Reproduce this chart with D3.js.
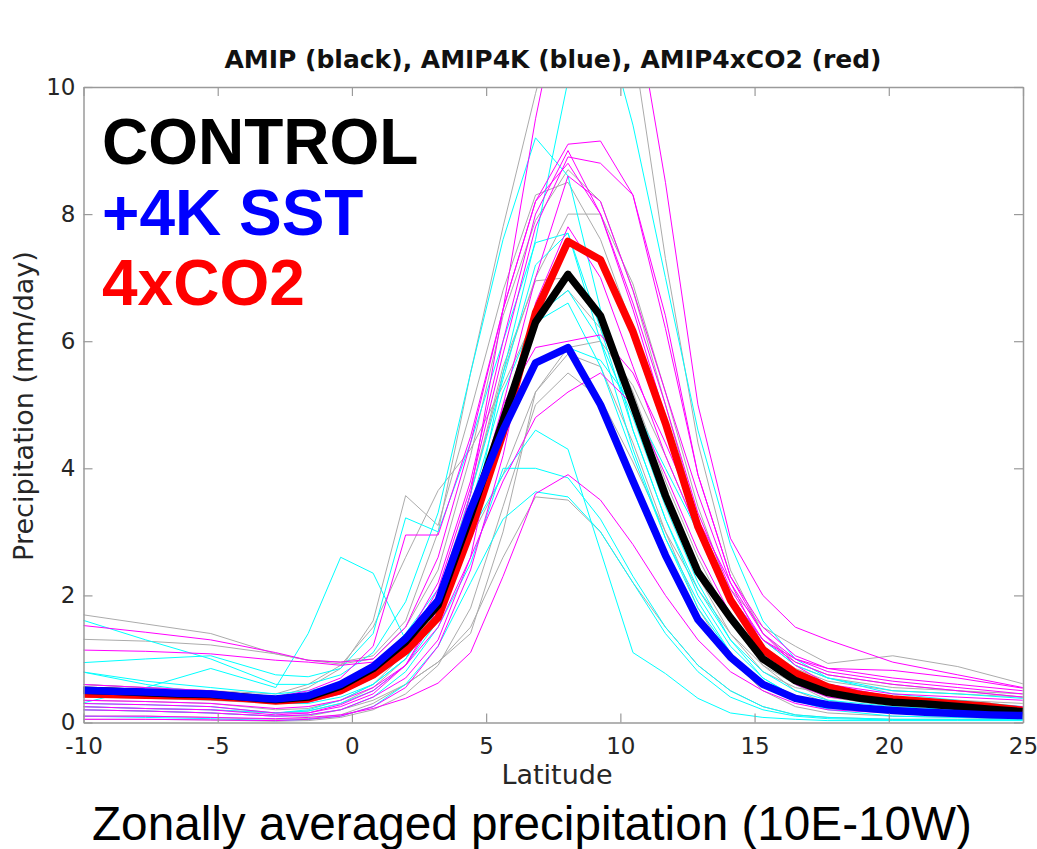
<!DOCTYPE html>
<html>
<head>
<meta charset="utf-8">
<script src="https://cdn.jsdelivr.net/npm/d3@7"></script>
<style>
  html, body { margin: 0; padding: 0; background: #fff; }
  svg { display: block; }
</style>
</head>
<body>
<svg id="chart" width="1037" height="849"></svg>
<script>
// ---------------- data ----------------
const title = "AMIP (black), AMIP4K (blue), AMIP4xCO2 (red)";
const caption = "Zonally averaged precipitation (10E-10W)";
const xLabel = "Latitude";
const yLabel = "Precipitation (mm/day)";
const legendLabels = ["CONTROL", "+4K SST", "4xCO2"];
const xTicks = [-10, -5, 0, 5, 10, 15, 20, 25];
const xTickLabels = ["-10", "-5", "0", "5", "10", "15", "20", "25"];
const yTicks = [0, 2, 4, 6, 8, 10];
const yTickLabels = ["0", "2", "4", "6", "8", "10"];

// latitude grid of the multi-model means
const latGrid = [-10.10,-8.89,-7.68,-6.47,-5.26,-4.05,-2.84,-1.63,-0.42,0.79,2.00,3.21,4.42,5.63,6.84,8.05,9.26,10.47,11.68,12.89,14.10,15.31,16.52,17.73,18.94,20.15,21.36,22.57,23.78,24.99];
const amipMean    = [0.51,0.49,0.47,0.45,0.44,0.40,0.36,0.40,0.57,0.85,1.27,1.85,3.25,4.75,6.30,7.05,6.40,5.00,3.57,2.37,1.65,1.00,0.66,0.47,0.38,0.32,0.29,0.25,0.21,0.17];
const amip4kMean  = [0.51,0.49,0.48,0.46,0.45,0.40,0.37,0.42,0.60,0.88,1.32,1.92,3.35,4.60,5.66,5.90,5.00,3.80,2.63,1.62,1.03,0.60,0.38,0.28,0.23,0.19,0.16,0.14,0.12,0.11];
const amip4xMean  = [0.45,0.44,0.43,0.42,0.41,0.38,0.34,0.37,0.50,0.75,1.12,1.65,3.00,4.55,6.45,7.57,7.28,6.15,4.71,3.08,1.93,1.15,0.78,0.56,0.44,0.37,0.33,0.29,0.25,0.19];

// latitude grid of the individual models
const modelLat = [-10.10,-7.68,-5.26,-2.84,-1.63,-0.42,0.79,2.00,3.21,4.42,5.63,6.84,8.05,9.26,10.47,11.68,12.89,14.10,15.31,16.52,17.73,20.15,22.57,24.99];

const amipModels = [
  [1.70,1.55,1.40,1.08,0.98,0.95,1.05,1.60,3.00,5.50,7.80,9.90,11.80,11.90,10.70,7.30,4.40,2.40,1.40,0.95,0.75,0.60,0.50,0.40],
  [1.31,1.28,1.22,1.08,0.98,0.92,1.00,1.50,2.40,4.20,6.40,7.90,8.70,8.20,6.80,5.00,3.20,1.90,1.20,0.85,0.65,0.50,0.45,0.40],
  [0.35,0.33,0.30,0.20,0.22,0.35,0.60,1.10,2.00,3.60,5.50,7.00,8.00,8.00,6.90,5.20,3.40,2.00,1.10,0.60,0.35,0.20,0.15,0.10],
  [0.60,0.55,0.50,0.40,0.55,0.85,1.60,3.57,3.10,4.90,6.80,8.30,8.50,7.60,6.20,4.60,3.00,2.10,1.50,1.20,0.93,1.05,0.88,0.61],
  [0.25,0.22,0.20,0.15,0.18,0.30,0.55,1.00,1.80,3.60,5.60,6.95,7.00,6.30,5.20,3.80,2.60,1.60,0.90,0.50,0.30,0.20,0.15,0.12],
  [0.20,0.18,0.15,0.10,0.10,0.20,0.35,0.60,0.95,1.50,2.60,3.55,3.50,3.00,2.20,1.50,0.90,0.50,0.25,0.12,0.08,0.05,0.05,0.05],
  [0.60,0.55,0.50,0.45,0.60,0.90,1.50,2.60,3.65,4.30,5.30,6.40,6.80,6.20,5.00,3.60,2.30,1.40,0.80,0.55,0.45,0.40,0.35,0.30],
  [0.10,0.10,0.08,0.05,0.06,0.12,0.30,0.60,0.95,1.40,3.00,5.20,5.80,5.60,4.40,3.00,1.80,1.00,0.50,0.25,0.15,0.10,0.08,0.05],
  [0.40,0.38,0.35,0.30,0.35,0.50,0.80,1.30,2.00,2.90,3.90,5.20,5.90,6.00,5.30,4.20,3.00,2.00,1.30,0.90,0.70,0.55,0.50,0.45],
  [0.05,0.05,0.04,0.02,0.03,0.08,0.20,0.45,0.90,1.80,3.40,5.00,5.50,5.10,4.10,3.00,2.10,1.40,0.90,0.60,0.40,0.25,0.20,0.15]
];
const amip4kModels = [
  [0.30,0.28,0.25,0.15,0.18,0.30,0.50,0.90,1.60,3.00,5.50,7.60,10.10,11.30,9.40,7.00,4.60,2.80,1.60,1.00,0.70,0.45,0.35,0.25],
  [1.62,1.30,1.00,0.60,0.60,0.75,1.10,1.90,3.30,5.50,7.60,9.20,8.60,6.50,4.60,3.20,2.10,1.30,0.80,0.50,0.35,0.25,0.20,0.15],
  [0.30,0.55,0.85,0.55,1.40,2.60,2.35,1.30,1.90,3.60,5.40,7.20,7.70,6.20,4.60,3.20,2.00,1.20,0.70,0.40,0.25,0.15,0.10,0.08],
  [0.94,1.00,1.05,0.75,0.72,0.85,1.40,3.22,3.00,4.40,6.00,7.55,7.70,6.00,4.30,2.90,1.80,1.10,0.60,0.35,0.22,0.15,0.12,0.10],
  [0.80,0.65,0.55,0.45,0.50,0.60,0.90,1.40,2.10,3.00,3.90,4.60,4.30,2.70,1.10,0.77,0.38,0.15,0.08,0.05,0.03,0.03,0.03,0.03],
  [0.20,0.18,0.15,0.10,0.12,0.20,0.40,0.80,1.50,2.50,4.00,4.00,3.85,3.20,2.30,1.50,0.90,0.50,0.25,0.12,0.08,0.05,0.05,0.05],
  [0.10,0.08,0.06,0.03,0.05,0.10,0.25,0.60,1.20,2.20,3.20,3.63,3.55,3.00,2.20,1.40,0.80,0.40,0.20,0.10,0.06,0.04,0.04,0.04],
  [0.25,0.22,0.20,0.15,0.20,0.35,0.60,1.00,1.80,3.40,5.20,6.40,6.80,6.00,4.80,3.40,2.20,1.30,0.70,0.40,0.25,0.15,0.12,0.10],
  [0.50,0.45,0.40,0.30,0.35,0.50,0.75,1.20,1.90,3.20,4.80,5.60,5.90,5.70,5.00,4.00,3.00,2.00,1.30,0.90,0.70,0.50,0.45,0.38],
  [0.80,0.60,0.45,0.30,0.30,0.40,0.60,1.00,1.70,3.00,4.80,6.30,6.60,5.60,4.20,2.90,1.90,1.10,0.60,0.35,0.20,0.10,0.08,0.06]
];
const amip4xModels = [
  [0.30,0.28,0.25,0.15,0.15,0.25,0.45,0.90,1.80,3.60,6.50,9.50,12.00,12.50,11.50,8.50,5.00,2.90,2.00,1.50,1.30,0.95,0.75,0.55],
  [1.53,1.42,1.30,1.10,0.98,0.95,1.00,1.50,2.60,4.40,6.50,8.20,9.10,9.15,8.30,6.20,3.90,2.30,1.40,1.00,0.80,0.65,0.55,0.45],
  [1.14,1.12,1.08,0.98,0.95,0.90,0.95,1.30,2.20,3.80,6.00,8.00,9.00,8.00,6.60,5.00,3.30,2.10,1.30,0.95,0.75,0.60,0.50,0.40],
  [0.60,0.55,0.50,0.40,0.50,0.70,1.20,2.95,2.95,4.50,6.50,8.20,8.80,8.00,6.50,4.80,3.20,2.00,1.20,0.80,0.60,0.45,0.40,0.35],
  [0.10,0.10,0.08,0.06,0.08,0.12,0.22,0.38,0.62,1.10,2.30,3.60,3.90,3.50,2.80,2.00,1.30,0.80,0.50,0.30,0.20,0.15,0.12,0.10],
  [0.25,0.22,0.20,0.12,0.15,0.28,0.50,0.90,1.70,3.20,5.00,5.90,6.00,6.10,5.50,4.40,3.20,2.20,1.40,0.90,0.60,0.40,0.30,0.25],
  [0.45,0.42,0.38,0.30,0.32,0.45,0.70,1.20,2.10,3.70,5.80,7.80,8.90,8.80,8.30,6.40,3.90,2.30,1.50,1.05,0.85,0.70,0.60,0.50],
  [0.05,0.05,0.04,0.03,0.05,0.10,0.25,0.55,1.20,2.40,4.20,6.60,7.80,7.00,5.60,4.20,3.00,2.00,1.30,1.00,0.85,0.82,0.70,0.54],
  [0.35,0.33,0.30,0.22,0.25,0.35,0.55,0.90,1.50,2.60,3.80,4.80,5.20,5.50,5.00,3.90,2.70,1.70,1.00,0.60,0.40,0.30,0.25,0.20],
  [0.20,0.18,0.15,0.10,0.12,0.20,0.40,0.70,1.30,2.60,5.00,7.00,8.60,8.20,6.80,5.20,3.60,2.20,1.20,0.70,0.45,0.30,0.25,0.20]
];

// ---------------- drawing ----------------
const svg = d3.select("#chart");
const plotLeft = 83.5, plotRight = 1023, plotTop = 87, plotBottom = 722.5;

const x = d3.scaleLinear().domain([-10, 25]).range([plotLeft, plotRight]);
const y = d3.scaleLinear().domain([0, 10]).range([plotBottom, plotTop]);

svg.append("defs").append("clipPath").attr("id", "plotclip")
  .append("rect").attr("x", plotLeft).attr("y", plotTop)
  .attr("width", plotRight - plotLeft).attr("height", plotBottom - plotTop);

const plot = svg.append("g").attr("clip-path", "url(#plotclip)");

const makeLine = (lats) => d3.line().x((d, i) => x(lats[i])).y(d => y(d));

const thinGroups = [
  { data: amipModels,   color: "#ababab" },
  { data: amip4kModels, color: "#00ffff" },
  { data: amip4xModels, color: "#ff00ff" }
];
thinGroups.forEach(g => {
  plot.append("g").selectAll("path").data(g.data).join("path")
    .attr("d", makeLine(modelLat))
    .attr("fill", "none")
    .attr("stroke", g.color)
    .attr("stroke-width", 1);
});

const thick = [
  { data: amip4xMean, color: "#ff0000" },
  { data: amipMean,   color: "#000000" },
  { data: amip4kMean, color: "#0000ff" }
];
thick.forEach(s => {
  plot.append("path")
    .attr("d", makeLine(latGrid)(s.data))
    .attr("fill", "none")
    .attr("stroke", s.color)
    .attr("stroke-width", 7.5)
    .attr("stroke-linejoin", "round");
});

// axes (box with inward ticks)
const axisColor = "#9a9a9a";
const tickFont = "'DejaVu Sans', sans-serif";
function styleAxis(g, showLabels) {
  g.select(".domain").attr("stroke", axisColor).attr("stroke-width", 1.5);
  g.selectAll(".tick line").attr("stroke", axisColor).attr("stroke-width", 1.2);
  g.selectAll(".tick text")
    .attr("fill", "#262626")
    .style("font-family", tickFont)
    .style("font-size", "23px")
    .style("display", showLabels ? null : "none");
}
const xFmt = (d) => xTickLabels[xTicks.indexOf(d)];
const yFmt = (d) => yTickLabels[yTicks.indexOf(d)];

svg.append("g").attr("transform", `translate(0,${plotBottom})`)
  .call(d3.axisBottom(x).tickValues(xTicks).tickFormat(xFmt).tickSizeInner(-9).tickSizeOuter(0).tickPadding(15))
  .call(g => styleAxis(g, true));
svg.append("g").attr("transform", `translate(0,${plotTop})`)
  .call(d3.axisTop(x).tickValues(xTicks).tickFormat(xFmt).tickSizeInner(-9).tickSizeOuter(0))
  .call(g => styleAxis(g, false));
svg.append("g").attr("transform", `translate(${plotLeft},0)`)
  .call(d3.axisLeft(y).tickValues(yTicks).tickFormat(yFmt).tickSizeInner(-9).tickSizeOuter(0).tickPadding(8))
  .call(g => styleAxis(g, true));
svg.append("g").attr("transform", `translate(${plotRight},0)`)
  .call(d3.axisRight(y).tickValues(yTicks).tickFormat(yFmt).tickSizeInner(-9).tickSizeOuter(0))
  .call(g => styleAxis(g, false));

// title
svg.append("text")
  .attr("x", 553).attr("y", 68)
  .attr("text-anchor", "middle")
  .style("font-family", "'DejaVu Sans', sans-serif")
  .style("font-weight", "bold")
  .style("font-size", "25px")
  .attr("fill", "#111")
  .text(title);

// axis labels
svg.append("text")
  .attr("x", 557).attr("y", 784)
  .attr("text-anchor", "middle")
  .style("font-family", "'DejaVu Sans', sans-serif")
  .style("font-size", "27px")
  .attr("fill", "#262626")
  .text(xLabel);

svg.append("text")
  .attr("transform", "translate(33,406) rotate(-90)")
  .attr("text-anchor", "middle")
  .style("font-family", "'DejaVu Sans', sans-serif")
  .style("font-size", "27px")
  .attr("fill", "#262626")
  .text(yLabel);

// big legend labels
const legendColors = ["#000000", "#0000ff", "#ff0000"];
const legendY = [164, 235, 305];
svg.append("g").selectAll("text").data(legendLabels).join("text")
  .attr("x", 102)
  .attr("y", (d, i) => legendY[i])
  .style("font-family", "'Liberation Sans', Arial, sans-serif")
  .style("font-weight", "bold")
  .style("font-size", "64px")
  .attr("fill", (d, i) => legendColors[i])
  .text(d => d);

// caption
svg.append("text")
  .attr("x", 532).attr("y", 840)
  .attr("text-anchor", "middle")
  .style("font-family", "'Liberation Sans', Arial, sans-serif")
  .style("font-size", "47.7px")
  .attr("fill", "#000")
  .text(caption);
</script>
</body>
</html>
